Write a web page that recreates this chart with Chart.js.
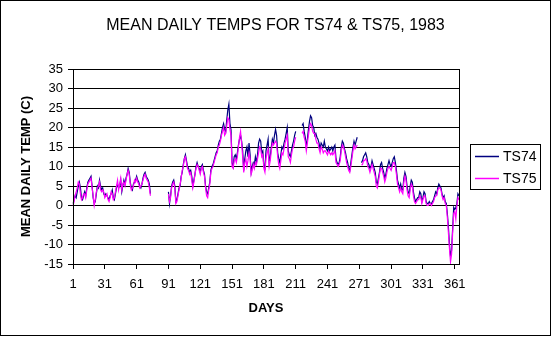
<!DOCTYPE html>
<html>
<head>
<meta charset="utf-8">
<title>Mean daily temps TS74 / TS75</title>
<script src="https://cdn.jsdelivr.net/npm/chart.js@4.4.0/dist/chart.umd.min.js"></script>
<style>
  body { margin: 0; background: #fff; }
  #wrap { width: 551px; height: 337px; }
</style>
</head>
<body>
<div id="wrap"><canvas id="myChart" width="551" height="337"></canvas></div>
<script>
// day of year, 1..365
const days = [];
for (let d = 1; d <= 365; d++) {
  days.push(d);
}
const tickDays = [1, 31, 61, 91, 121, 151, 181, 211, 241, 271, 301, 331, 361];
const seriesNames = ['TS74', 'TS75'];
const chartTitle = 'MEAN DAILY TEMPS FOR TS74 & TS75, 1983';

// mean daily temp (C), null = no data
const ts74 = [
  0.5, 1.5, 2.5, 2, 3.5, 5, 6, 4.5, 2, 1.5,
  2.5, 3.5, 2.5, 4.5, 6, 6.5, 7, 7.5, 5, 2,
  0.5, 1, 3, 5, 4.5, 6.5, 5, 4, 4.5, 3,
  2.5, 3, 2.5, 2, 1.5, 2.5, 3, 4, 2, 1.5,
  3, 4.5, 5.5, 4.5, 5, 6.5, 3.5, 5, 6.5, 5.5,
  7, 8, 9.5, 8.5, 6, 4.5, 4, 5.5, 6, 6.5,
  7.5, 6.5, 6, 5, 4.5, 5.5, 7, 8, 8.5, 7.5,
  7, 6.5, 5.5, 3, null, null, null, null, null, null,
  null, null, null, null, null, null, null, null, null, null,
  3.5, 0.5, 2.5, 5, 6, 6.5, 5, 1, 1.5, 3,
  4.5, 5, 7.5, 8.5, 10.5, 12, 13, 11.5, 10, 9.5,
  8.5, 9, 7.5, 5, 6.5, 8, 10, 11, 10, 9.5,
  8.5, 10, 10.5, 9, 8, 5, 3.5, 3, 4.5, 6,
  9, 10, 10.5, 11.5, 12.5, 13.5, 14, 15.5, 16.5, 17,
  18.5, 20, 21, 19.5, 19, 22, 24.5, 26, 21, 19.5,
  11, 10, 12.5, 13, 12, 13.5, 15.5, 17, 18, 16.5,
  14, 9, 12, 14, 15, 12.5, 16, 13, 8.5, 10,
  11, 10.5, 12.5, 11, 13, 16, 17, 16.5, 13.5, 14,
  10, 9.5, 14, 15.5, 17, 11, 12.5, 15, 17, 16,
  18, 19.5, 18, 13.5, 12, 11, 13, 15, 14.5, 16,
  17, 18.5, 20, 14, 13, 12.5, 14, 15.5, 16.5, 18,
  19, null, null, null, null, null, 20.5, 21, 19, 17.5,
  15, 17, 19.5, 21.5, 23, 22.5, 20.5, 20, 18, 18.5,
  17.5, 17, 16, 14.5, 16, 15.5, 15, 16.5, 15, 14.5,
  14, 15, 14, 14.5, 15, 14, 15, 15.5, 12, 11,
  10.5, 11, 12.5, 15, 16.5, 16, 14.5, 13.5, 12, 11,
  9.5, 9, 11, 13, 15, 16.5, 15.5, 16.5, 17.5, null,
  null, null, 11, 11.5, 12.5, 13, 13.5, 12.5, 11, 10.5,
  9.5, 10, 11.5, 10.5, 9.5, 8.5, 6, 5.5, 7, 8.5,
  10.5, 11, 9.5, 8.5, 7, 8, 9.5, 10.5, 11.5, 10.5,
  10, 11, 12, 12.5, 11, 9, 6.5, 5.5, 4.5, 5.5,
  4, 4, 7, 8.5, 7.5, 5, 3.5, 3, 5, 6.5,
  6, 3.5, 2, 1, 1.5, 2, 2, 3.5, 3, 1,
  2, 3.5, 3, 1, 0.5, 0.5, 1, 0.5, 0.5, 1,
  1.5, 2.5, 3.5, 3, 4.5, 5.5, 5, 4.5, 3, 2,
  2.5, 1, 0.5, -2, -5.5, -10, -13, -11.5, -6, -0.5,
  -1, -0.5, 0.5, 3, 2.5
];

const ts75 = [
  0, 1, 2.5, 3.5, 4.5, 6, 5.5, 3, 1.5, 2,
  3, 3, 2, 4, 5.5, 6, 6.5, 7, 4.5, 2.5,
  0, 1.5, 3.5, 4.5, 5, 6, 4, 3.5, 4, 3.5,
  2, 2.5, 3, 1.5, 1, 2, 3.5, 3, 1.5, 2,
  3.5, 5, 6.5, 4, 5.5, 7, 4, 5.5, 6, 5,
  6.5, 8, 9, 8, 5.5, 4, 4.5, 5, 6.5, 6,
  7, 6, 5.5, 4.5, 5, 5.5, 6.5, 7.5, 8, 7,
  6.5, 6, 4.5, 2.5, null, null, null, null, null, null,
  null, null, null, null, null, null, null, null, null, null,
  3, 1, 2, 4.5, 5.5, 6, 4.5, 0.5, 1, 2.5,
  4, 5.5, 7, 9, 10, 12, 12.5, 11, 9.5, 9,
  8, 8.5, 6.5, 4.5, 6, 8, 9.5, 10.5, 10, 9,
  8, 9.5, 10, 8.5, 7.5, 4.5, 2.5, 2, 4, 5.5,
  8.5, 9.5, 10, 11, 12, 13, 13.5, 15, 15.5, 16.5,
  18, 19, 20, 18, 18.5, 20.5, 22.5, 22, 19.5, 18,
  10, 9.5, 11.5, 12, 11, 12.5, 15, 17.5, 19, 16,
  12.5, 8.5, 11, 12, 10, 11.5, 13.5, 12, 8, 9,
  10.5, 9.5, 11, 10.5, 12, 13.5, 15, 14.5, 12.5, 13,
  9.5, 8.5, 12, 13.5, 14.5, 10, 11.5, 14, 16, 15.5,
  16, 16.5, 16, 12.5, 10.5, 9.5, 11.5, 13.5, 13, 14.5,
  16, 17, 18, 12.5, 12, 11, 13, 14.5, 15, 16.5,
  17.5, null, null, null, null, null, 18.5, 19, 17.5, 16.5,
  14, 16, 18, 20, 21, 20.5, 19, 18.5, 18.5, 17,
  16, 16, 14.5, 13.5, 15, 14.5, 13.5, 14, 14, 13.5,
  13, 14, 13.5, 13, 13.5, 13, 13.5, 14, 11, 10.5,
  10, 10.5, 11.5, 14, 15.5, 15, 14, 12.5, 11, 10,
  9, 8.5, 10, 12, 14, 15.5, 14.5, 15, 15.5, null,
  null, null, 10.5, 10.5, 11.5, 11.5, 12, 11.5, 10, 9.5,
  8.5, 9.5, 10.5, 9.5, 8.5, 7.5, 5, 4.5, 6, 8,
  9.5, 9.5, 8.5, 7.5, 6, 7, 8.5, 9.5, 10, 9.5,
  9, 10, 11, 11, 10, 8, 5.5, 4.5, 3.5, 4.5,
  3.5, 3, 6, 7.5, 6.5, 4, 2.5, 2, 4, 5.5,
  5, 2.5, 1, 0.5, 1, 1.5, 1.5, 2.5, 2, 0.5,
  1.5, 2.5, 2.5, 0.5, 0, 0, 0.5, 0.5, 0, 0.5,
  1, 2, 2.5, 2.5, 4, 4.5, 4.5, 4, 2.5, 1.5,
  2, 0.5, 0, -3, -7, -11, -14.5, -12.5, -7, -2,
  -1.5, -3.5, 0, 2, 1.5
];

const FONT = 'Arial, "Liberation Sans", sans-serif';
Chart.defaults.font.family = FONT;
Chart.defaults.color = '#000';

// white page, title across the whole page, frames and boxed legend on the right
const excelLook = {
  id: 'excelLook',
  beforeDraw: function(chart) {
    const ctx = chart.ctx;
    ctx.save();
    ctx.fillStyle = '#fff';
    ctx.fillRect(0, 0, chart.width, chart.height);
    ctx.restore();
  },
  afterDraw: function(chart) {
    const ctx = chart.ctx;
    const a = chart.chartArea;
    ctx.save();
    ctx.strokeStyle = '#000';
    ctx.lineWidth = 1;
    ctx.strokeRect(0.5, 0.5, chart.width - 1, chart.height - 2);
    ctx.strokeRect(Math.round(a.left) + 0.5, Math.round(a.top) + 0.5,
      Math.round(a.right - a.left), Math.round(a.bottom - a.top));

    // title
    ctx.fillStyle = '#000';
    ctx.font = '16px ' + FONT;
    ctx.textAlign = 'center';
    ctx.textBaseline = 'middle';
    ctx.fillText(chartTitle, chart.width / 2, 26);

    // legend
    ctx.strokeRect(470.5, 144.5, 70, 45);
    ctx.font = '14px ' + FONT;
    ctx.textAlign = 'left';
    const rows = [156.5, 178.5];
    chart.data.datasets.forEach(function(ds, i) {
      ctx.strokeStyle = ds.borderColor;
      ctx.lineWidth = 1.5;
      ctx.beginPath();
      ctx.moveTo(475, rows[i]);
      ctx.lineTo(499, rows[i]);
      ctx.stroke();
      ctx.fillStyle = '#000';
      ctx.fillText(ds.label, 503, rows[i] + 1);
    });
    ctx.restore();
  }
};

const ctx = document.getElementById('myChart');
const chart = new Chart(ctx, {
  type: 'line',
  data: {
    labels: days,
    datasets: [{
      label: seriesNames[0],
      data: ts74,
      borderColor: '#000080',
      borderWidth: 1.2,
      pointRadius: 0,
      tension: 0,
      spanGaps: false,
      order: 1
    },
    {
      label: seriesNames[1],
      data: ts75,
      borderColor: '#ff00ff',
      borderWidth: 1.2,
      pointRadius: 0,
      tension: 0,
      spanGaps: false,
      order: 0
    }]
  },
  options: {
    responsive: false,
    animation: false,
    devicePixelRatio: 1,
    layout: {
      padding: { left: 0, right: 92, top: 69, bottom: 0 }
    },
    plugins: {
      legend: { display: false },
      tooltip: { enabled: false },
      title: { display: false }
    },
    scales: {
      x: {
        type: 'category',
        ticks: {
          autoSkip: false,
          maxRotation: 0,
          minRotation: 0,
          padding: 8,
          color: '#000',
          font: { size: 13 }
        },
        grid: { drawOnChartArea: false, color: '#000', tickLength: 5 },
        border: { color: '#000' },
        title: {
          display: true,
          text: 'DAYS',
          color: '#000',
          font: { size: 13, weight: 'bold' },
          padding: { top: 0, bottom: 21 }
        },
        afterBuildTicks: function(scale) {
          scale.ticks = scale.ticks.filter(function(t) {
            return tickDays.includes(days[t.value]);
          });
        },
        afterFit: function(scale) {
          scale.height = 73;
        }
      },
      y: {
        min: -15,
        max: 35,
        ticks: {
          stepSize: 5,
          padding: 5,
          color: '#000',
          font: { size: 13 }
        },
        grid: { color: '#000', tickLength: 5 },
        border: { color: '#000' },
        title: {
          display: true,
          text: 'MEAN DAILY TEMP (C)',
          color: '#000',
          font: { size: 13, weight: 'bold' },
          padding: { top: 19, bottom: 0 }
        },
        afterFit: function(scale) {
          scale.width = 73;
        }
      }
    }
  },
  plugins: [excelLook]
});
</script>
</body>
</html>
